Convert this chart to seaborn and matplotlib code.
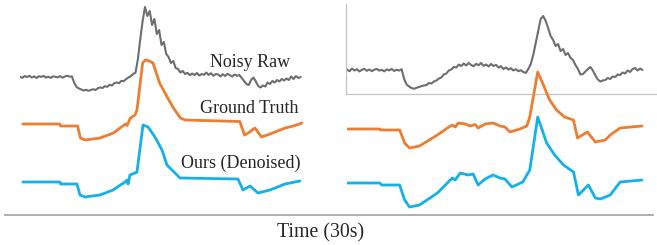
import matplotlib
matplotlib.use("Agg")
import matplotlib.pyplot as plt
import numpy as np
import seaborn as sns

# time grid for the raw (noisy) recordings, 0.25 s steps over 30 s
t_raw = np.arange(120) * 0.25

# left example
left_raw = [
    0.02, -0.08, 0.10, 0.00, 0.12, -0.05, 0.06, -0.10,
    0.08, 0.01, 0.11, -0.06, 0.04, -0.09, 0.07, 0.02,
    -0.04, 0.09, -0.07, 0.05, 0.13, 0.03, 0.06, -0.60,
    -1.00, -1.15, -1.25, -1.35, -1.28, -1.38, -1.30, -1.22,
    -1.30, -1.12, -1.05, -1.10, -0.92, -0.98, -0.78, -0.85,
    -0.62, -0.55, -0.62, -0.38, -0.42, -0.20, -0.05, 0.10,
    0.30, 0.45, 1.80, 3.80, 5.60, 7.00, 6.10, 6.60,
    5.20, 5.80, 4.30, 4.70, 3.20, 3.50, 2.30, 2.00,
    1.40, 1.60, 0.90, 0.80, 0.45, 0.60, 0.30, 0.42,
    0.18, 0.35, 0.20, 0.40, 0.15, 0.30, 0.22, 0.45,
    0.20, 0.38, 0.12, 0.30, 0.25, 0.05, 0.28, 0.10,
    0.32, 0.18, 0.05, 0.25, 0.12, 0.20, -0.10, -0.40,
    -0.70, -0.80, -0.30, -0.05, -0.45, -0.90, -1.05, -0.85,
    -0.95, -0.55, -0.70, -0.40, -0.55, -0.30, -0.45, -0.20,
    -0.35, -0.15, -0.30, 0.05, -0.20, 0.10, -0.10, 0.00,
]
left_gt_t = [0.3, 4.2, 4.3, 6.1, 6.4, 6.9, 8.5, 9.9, 10.9, 11.2, 11.35, 11.7,
             12.2, 12.4, 13.0, 13.3, 13.7, 14.1, 14.8, 15.6, 16.2, 17.0, 17.5,
             23.3, 23.8, 24.2, 24.9, 25.6, 26.5, 28.1, 29.0, 29.9]
left_gt = [0, 0, -0.2, -0.2, -1.4, -1.6, -1.4, -0.9, -0.2, 0.0, -0.15, 0.6,
           0.9, 1.4, 6.1, 6.4, 6.3, 6.1, 4.1, 2.7, 1.7, 0.6, 0.4,
           0.25, -1.1, -0.9, -0.4, -1.3, -1.0, -0.4, -0.2, 0.1]
left_ours_t = [0.3, 4.24, 4.3, 6.04, 6.36, 6.89, 8.48, 9.86, 11.13, 11.34, 11.45,
               11.66, 12.19, 12.4, 13.04, 13.57, 14.31, 15.05, 15.58, 16.11,
               16.96, 23.1, 23.64, 24.38, 25.23, 26.5, 28.09, 29.68]
left_ours = [0, 0, -0.2, -0.2, -1.3, -1.5, -1.3, -0.8, 0.0, 0.2, -0.2,
             0.7, 0.9, 1.0, 5.7, 5.5, 4.5, 3.2, 1.7, 1.2,
             0.4, 0.3, -0.8, -0.4, -1.1, -0.8, -0.2, 0.1]

# right example
right_raw = [
    0.05, -0.12, 0.15, -0.05, 0.08, -0.15, 0.02, 0.12,
    -0.08, 0.05, -0.12, 0.04, 0.10, -0.06, 0.02, -0.14,
    0.06, -0.04, 0.10, -0.10, 0.03, -0.06, 0.08, -0.90,
    -1.45, -1.65, -1.80, -1.88, -1.78, -1.70, -1.62, -1.55,
    -1.50, -1.30, -1.35, -1.15, -1.05, -0.85, -0.75, -0.45,
    -0.35, -0.05, 0.05, 0.30, 0.25, 0.55, 0.40, 0.65,
    0.45, 0.70, 0.50, 0.38, 0.62, 0.48, 0.70, 0.42,
    0.55, 0.35, 0.60, 0.40, 0.52, 0.25, 0.38, 0.10,
    0.25, 0.05, 0.18, -0.05, 0.08, -0.12, -0.02, -0.20,
    -0.28, 0.10, 0.60, 1.50, 2.70, 3.90, 5.10, 5.40,
    4.90, 4.20, 3.40, 3.00, 2.40, 2.60, 1.90, 2.10,
    1.50, 1.70, 1.20, 1.00, 0.50, 0.10, -0.45, -0.40,
    -0.15, 0.10, 0.30, -0.05, -0.55, -0.95, -1.15, -1.05,
    -1.00, -0.80, -0.90, -0.65, -0.70, -0.45, -0.50, -0.25,
    -0.35, -0.05, -0.20, 0.10, 0.20, -0.05, 0.15, 0.00,
]
right_gt_t = [0, 3.3, 3.4, 5.3, 5.8, 6.3, 7.3, 9.1, 10.1, 10.6, 10.9, 11.2, 11.9,
              12.4, 12.9, 13.2, 13.9, 14.7, 15.4, 15.9, 16.4, 17.4, 18.1, 18.4,
              18.9, 19.2, 19.6, 20.4, 21.1, 21.9, 22.8, 23.2, 24.2, 25.0, 26.0,
              26.5, 27.5, 29.7]
right_gt = [0, 0, -0.1, -0.1, -1.4, -1.9, -1.7, -0.6, 0.1, 0.4, 0.2, 0.6, 0.5,
            0.3, 0.45, 0.1, 0.5, 0.6, 0.3, 0.2, -0.3, 0.0, 0.3, 1.2,
            4.0, 5.7, 4.8, 2.9, 1.9, 1.2, 0.9, -0.9, -0.3, -1.3, -1.1,
            -0.6, 0.1, 0.3]
right_ours_t = [0, 3.3, 3.5, 5.3, 5.8, 6.3, 7.3, 9.1, 10.6, 10.9, 11.4, 12.2,
                12.7, 13.2, 13.9, 14.7, 15.4, 15.9, 16.6, 17.7, 18.4, 19.2, 20.1,
                20.9, 21.8, 22.8, 23.3, 24.3, 25.0, 25.5, 26.5, 27.5, 29.7]
right_ours = [0, 0, -0.2, -0.2, -1.7, -2.4, -2.2, -1.0, 0.5, 0.3, 1.0, 0.8,
              0.9, -0.2, 0.4, 0.8, 0.5, 0.4, -0.4, 0.1, 1.3, 6.6, 4.0,
              2.8, 1.8, 1.1, -1.2, -0.2, -1.5, -1.6, -1.2, 0.1, 0.3]

labels = ["Noisy Raw", "Ground Truth", "Ours (Denoised)"]
GRAY, ORANGE, BLUE = "#6e6e6e", "#ED7D31", "#12B1EC"

sns.set_theme(style="white")
plt.rcParams["font.family"] = ["Liberation Serif", "DejaVu Serif"]

W, H = 657, 245
fig = plt.figure(figsize=(W / 100, H / 100), dpi=100)

# bottom rule with the time label
base = fig.add_axes([5 / W, 30 / H, 648 / W, 0.5])
base.set_xticks([]); base.set_yticks([])
for s in ["top", "left", "right"]:
    base.spines[s].set_visible(False)
base.spines["bottom"].set_color("#a8a8a8")
base.spines["bottom"].set_linewidth(1.3)
base.patch.set_alpha(0)
fig.text(321 / W, 1 - 233 / H, "Time (30s)", ha="center", va="center", fontsize=14.3)

# frame behind the right raw trace
box = fig.add_axes([346 / W, 1 - 94 / H, 311 / W, 90 / H])
box.set_xticks([]); box.set_yticks([])
box.spines["top"].set_visible(False)
box.spines["right"].set_visible(False)
for s in ["left", "bottom"]:
    box.spines[s].set_color("#c4c4c4")
    box.spines[s].set_linewidth(0.9)
box.patch.set_alpha(0)

panels = [
    ([20 / W, 0, 283 / W, 1], left_raw, (left_gt_t, left_gt), (left_ours_t, left_ours),
     (16.8, 12.1, 6.3)),
    ([347 / W, 0, 298 / W, 1], right_raw, (right_gt_t, right_gt), (right_ours_t, right_ours),
     (17.5, 11.6, 6.2)),
]

axes = []
for rect, raw, gt, ours, offs in panels:
    ax = fig.add_axes(rect)
    ax.patch.set_alpha(0)
    sns.lineplot(x=t_raw, y=np.array(raw) + offs[0], ax=ax, color=GRAY,
                 linewidth=1.5, estimator=None)
    sns.lineplot(x=gt[0], y=np.array(gt[1]) + offs[1], ax=ax, color=ORANGE,
                 linewidth=2.0, estimator=None)
    sns.lineplot(x=ours[0], y=np.array(ours[1]) + offs[2], ax=ax, color=BLUE,
                 linewidth=2.0, estimator=None)
    ax.set_xlim(0, 30)
    ax.set_ylim(0, 24.5)
    ax.set_axis_off()
    axes.append(ax)

axl = axes[0]
axl.text(28.6, 18.3, labels[0], ha="right", va="center", fontsize=13)
axl.text(29.5, 13.7, labels[1], ha="right", va="center", fontsize=13)
axl.text(29.7, 8.2, labels[2], ha="right", va="center", fontsize=13)

plt.savefig("out.png", dpi=100)
